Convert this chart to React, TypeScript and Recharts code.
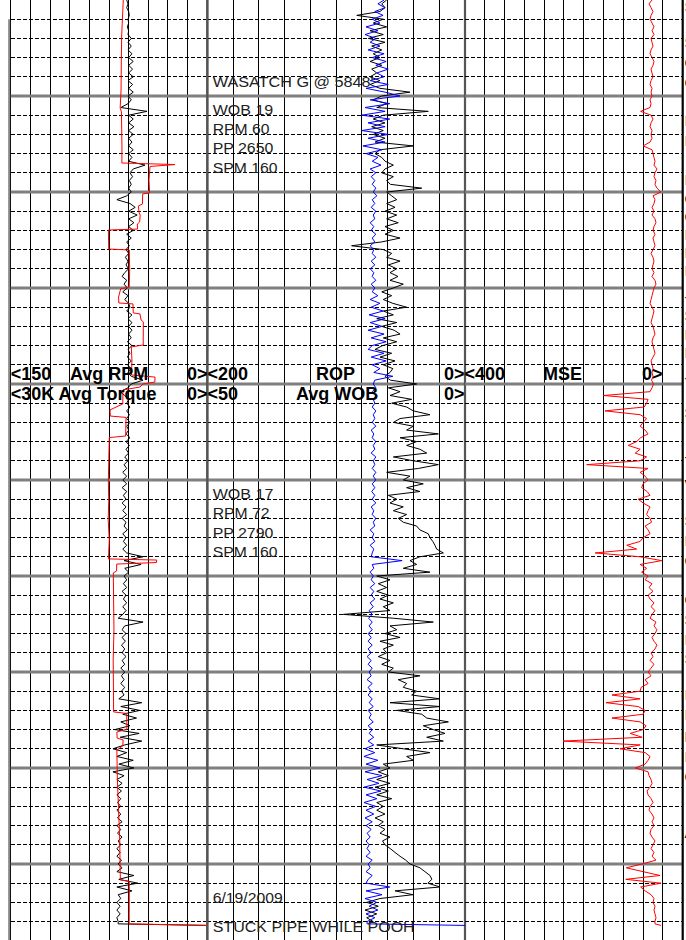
import React from "react";
import { LineChart, Line, XAxis, YAxis, ReferenceLine } from "recharts";

// ---------- depth axis ----------
const DEPTH_TOP = 5800;
const DEPTH_BOTTOM = 6289.6;
// log sampled every 2 ft, plus final "pull out" rows
const sampleDepths = Array.from({ length: 241 }, (_, k) => 5800 + 2 * k);
const tailDepths = [6281.2, 6282.0];
const depthFt = [...sampleDepths, ...tailDepths];

// ---------- series (same depth rows) ----------
const avgTorqueK = [
  12.3, 12.1, 12.3, 12.0, 11.9, 12.1, 12.0, 12.2, 12.0, 12.1,
  11.6, 12.1, 11.6, 12.1, 11.5, 12.0, 11.3, 12.0, 11.4, 12.0,
  11.3, 12.1, 11.4, 12.0, 11.3, 12.1, 11.6, 12.1, 13.2, 9.2,
  12.0, 11.3, 12.0, 11.2, 12.0, 11.3, 12.0, 11.5, 12.0, 11.3,
  12.0, 11.5, 12.0, 9.5, 11.3, 11.8, 11.4, 11.9, 11.6, 12.0,
  11.6, 12.3, 13.8, 11.8, 11.0, 12.0, 10.7, 12.0, 11.2, 12.0,
  11.3, 12.3, 11.6, 12.3, 11.9, 12.4, 12.0, 12.5, 12.1, 12.4,
  12.0, 12.6, 13.0, 12.3, 12.7, 12.2, 12.9, 12.1, 12.6, 12.0,
  11.8, 12.3, 11.5, 12.1, 11.5, 12.0, 11.5, 12.0, 11.6, 12.2,
  11.5, 12.1, 11.8, 12.2, 11.6, 12.2, 11.6, 12.1, 11.6, 9.8,
  11.6, 12.1, 13.3, 12.6, 12.0, 12.3, 11.8, 12.3, 11.9, 12.3,
  11.8, 12.3, 12.0, 12.4, 11.8, 12.4, 11.9, 12.4, 12.0, 12.6,
  12.1, 12.7, 12.3, 12.9, 12.3, 12.9, 12.3, 13.0, 12.3, 12.8,
  12.4, 13.0, 12.4, 12.9, 12.3, 13.0, 12.4, 12.7, 12.2, 12.9,
  12.4, 12.8, 12.3, 12.9, 12.3, 9.8, 12.7, 10.1, 12.6, 12.0,
  12.7, 12.3, 12.8, 12.3, 13.0, 12.4, 12.8, 12.3, 12.9, 12.4,
  12.9, 13.6, 9.8, 12.6, 13.0, 12.4, 13.0, 12.5, 13.1, 12.6,
  13.0, 12.4, 13.0, 12.6, 13.2, 12.6, 13.1, 12.7, 13.2, 12.6,
  13.1, 12.7, 13.5, 10.0, 13.2, 10.3, 12.9, 10.8, 13.2, 11.8,
  14.1, 10.4, 13.3, 10.0, 12.6, 14.4, 12.3, 13.8, 11.3, 13.5,
  11.2, 14.4, 12.7, 13.8, 13.0, 13.8, 13.1, 13.8, 13.2, 13.7,
  13.2, 13.8, 13.2, 13.7, 13.0, 13.8, 13.2, 13.7, 13.0, 13.6,
  13.2, 13.8, 13.3, 13.8, 13.1, 13.6, 13.0, 13.8, 11.2, 13.5,
  10.6, 13.8, 11.5, 13.6, 13.2, 13.8, 13.3, 13.8, 13.3, 13.8,
  13.6,
  13.6, 0,
];

const ropFtHr: (number | null)[] = [
  60.8, 64.6, 62.1, 66.0, 84.0, 63.4, 71.2, 60.8, 73.7, 63.4,
  75.0, 62.1, 72.4, 64.6, 71.2, 66.0, 73.7, 64.6, 72.4, 68.5,
  73.7, 66.0, 73.7, 66.0, 42.7, 64.6, 71.2, 60.8, 68.5, 28.5,
  63.4, 71.2, 62.1, 72.4, 63.4, 71.2, 62.1, 69.8, 40.1, 66.0,
  69.8, 64.6, 62.0, 55.6, 62.1, 64.6, 55.6, 60.8, 58.0, 33.6,
  60.8, 56.9, 53.0, 60.8, 54.3, 62.1, 53.0, 60.8, 51.8, 62.1,
  55.6, 62.0, 50.4, 64.6, 88.0, 63.4, 56.9, 60.8, 50.4, 59.5,
  53.0, 58.2, 52.0, 58.2, 47.9, 55.6, 64.6, 56.9, 63.4, 56.0,
  45.3, 63.4, 55.6, 68.5, 53.0, 64.6, 55.0, 50.4, 63.4, 53.0,
  64.0, 69.8, 56.9, 66.0, 54.3, 63.4, 56.0, 58.2, 62.1, 58.0,
  37.5, 59.5, 50.4, 58.2, 41.4, 56.9, 45.3, 40.1, 27.2, 50.4,
  55.6, 40.1, 45.3, 20.7, 50.4, 37.5, 45.3, 35.0, 29.7, 55.6,
  40.1, 20.7, 36.2, 60.8, 42.7, 47.9, 32.4, 45.3, 35.0, 59.5,
  53.0, 58.2, 47.9, 55.6, 45.3, 51.8, 47.9, 37.5, 35.0, 28.5,
  27.2, 25.0, 23.3, 22.0, 16.8, 35.0, 42.7, 37.5, 47.9, 27.2,
  68.5, 58.2, 67.3, 60.8, 68.5, 59.5, 66.0, 55.6, 63.4, 58.2,
  94.4, 55.6, 24.6, 58.2, 53.0, 62.1, 50.4, 66.0, 55.6, 63.4,
  60.8, 67.3, 58.2, 64.6, 55.6, 59.5, 35.0, 51.8, 45.3, 47.9,
  37.5, 41.4, 19.4, 58.2, 19.4, 53.0, 33.6, 29.7, 12.9, 32.4,
  24.6, 15.5, 29.7, 16.8, 68.5, 47.9, 27.2, 45.3, 40.1, 63.4,
  58.2, 67.3, 59.5, 68.5, 58.2, 69.8, 59.5, 68.5, 56.9, 68.5,
  63.4, 68.5, 62.1, 69.8, 63.4, 67.3, 62.1, 66.0, 58.2, 64.0,
  62.1, 58.0, 54.3, 50.4, 46.0, 42.7, 35.0, 31.1, 27.2, 25.7,
  28.8, 19.4, 54.3, 40.4, 66.0, 76.3, 67.3, 77.6, 68.5, 76.3,
  71.2,
  75.0, null,
];

const avgWobK = [
  15.7, 16.9, 15.5, 17.5, 15.9, 18.0, 16.5, 19.2, 16.9, 19.4,
  17.3, 18.4, 16.5, 18.8, 15.7, 18.0, 15.3, 17.3, 14.9, 17.1,
  15.7, 18.4, 14.9, 19.2, 15.5, 12.6, 18.4, 14.6, 19.4, 15.5,
  20.0, 14.6, 18.8, 15.5, 20.0, 14.9, 18.8, 15.5, 19.8, 16.1,
  19.2, 16.9, 18.0, 16.3, 18.4, 17.3, 18.2, 17.5, 18.0, 17.3,
  17.8, 17.1, 18.0, 17.5, 18.2, 17.3, 17.8, 17.5, 18.4, 17.7,
  18.2, 17.3, 18.0, 17.5, 18.4, 17.7, 18.0, 17.3, 18.2, 17.5,
  18.4, 17.7, 18.0, 17.3, 18.2, 17.5, 18.0, 16.9, 18.4, 16.5,
  18.2, 15.9, 18.6, 15.5, 18.4, 16.1, 18.8, 15.7, 18.2, 15.3,
  18.0, 18.8, 15.7, 18.2, 15.3, 18.0, 16.5, 17.7, 14.0, 17.5,
  17.8, 17.3, 18.0, 17.1, 17.8, 17.5, 18.0, 17.3, 17.8, 17.5,
  18.0, 17.3, 18.2, 17.7, 18.0, 17.3, 17.8, 17.5, 18.2, 17.3,
  17.8, 17.5, 18.0, 17.3, 17.8, 17.3, 18.0, 17.5, 18.1, 17.5,
  18.0, 17.3, 18.2, 17.7, 18.0, 17.3, 17.8, 17.5, 18.4, 17.7,
  18.0, 17.5, 18.4, 17.7, 18.0, 18.2, 12.2, 18.0, 17.7, 18.4,
  17.8, 18.2, 17.5, 18.4, 17.7, 18.2, 17.5, 18.4, 17.8, 18.6,
  18.0, 18.7, 18.0, 18.6, 18.0, 18.8, 18.2, 18.8, 18.0, 18.8,
  18.2, 19.0, 18.2, 18.8, 18.0, 18.6, 18.2, 19.0, 18.0, 18.8,
  18.2, 18.8, 18.0, 18.6, 17.8, 18.8, 18.2, 18.6, 17.8, 18.8,
  18.0, 18.6, 17.7, 18.8, 17.7, 19.4, 17.5, 19.6, 16.9, 19.2,
  16.5, 19.4, 16.1, 19.0, 16.7, 19.6, 16.3, 19.2, 17.1, 19.6,
  17.3, 19.2, 17.7, 19.4, 18.0, 19.2, 18.2, 19.0, 18.4, 19.2,
  18.6, 19.0, 18.4, 19.2, 18.0, 18.8, 18.4, 19.2, 18.0, 18.8,
  19.2, 14.6, 19.2, 16.1, 19.4, 17.1, 18.6, 16.9, 19.2, 17.5,
  19.0,
  19.0, 0,
];

const mseKpsi = [
  22, 28, 24, 20, 24, 26, 22, 18, 22, 18,
  24, 22, 20, 24, 26, 22, 18, 20, 24, 22,
  20, 24, 26, 22, 24, 22, 26, 24, 26, 45,
  24, 20, 24, 26, 22, 24, 22, 26, 40, 22,
  20, 18, 16, 18, 12, 16, 18, 14, 16, 12,
  4, 20, 16, 18, 22, 18, 22, 16, 14, 18,
  20, 16, 20, 18, 16, 20, 24, 20, 18, 20,
  22, 18, 22, 16, 14, 18, 20, 22, 24, 26,
  22, 18, 20, 22, 24, 20, 18, 16, 20, 22,
  20, 18, 16, 20, 24, 22, 20, 22, 20, 23,
  19, 22, 26, 120, 30, 33, 38, 117, 46, 33,
  40, 46, 36, 30, 45, 53, 70, 46, 56, 33,
  46, 154, 30, 46, 36, 30, 40, 43, 32, 26,
  50, 40, 26, 30, 33, 26, 23, 36, 30, 26,
  40, 46, 73, 53, 137, 46, 2.4, 46, 33, 43,
  30, 36, 22, 28, 20, 30, 26, 18, 24, 16,
  22, 26, 14, 18, 12, 16, 22, 18, 12, 16,
  24, 20, 26, 18, 24, 30, 24, 36, 30, 44,
  46, 103, 46, 115, 50, 36, 40, 103, 46, 34,
  40, 66, 42, 202, 46, 87, 36, 26, 30, 36,
  56, 30, 28, 24, 22, 26, 32, 30, 24, 20,
  26, 28, 22, 18, 22, 18, 24, 26, 22, 16,
  20, 24, 18, 22, 14, 42, 74, 40, 6, 75,
  4, 45, 36, 24, 18, 20, 16, 18, 16, 14,
  16,
  16, 4,
];

// ---------- Avg RPM (own depth rows) ----------
const rpmDepthFt = [
  5800, 5810.4, 5818.2, 5831.3, 5846.9, 5856.3, 5858.3, 5867.7, 5878.1, 5884.9,
  5885.7, 5886.7, 5893.8, 5900.5, 5901.0, 5906.3, 5907.3, 5910.9, 5912.0, 5915.6,
  5916.7, 5919.3, 5919.8, 5929.7, 5930.2, 5940.6, 5949.5, 5950.5, 5954.7, 5957.8,
  5958.3, 5963.0, 5963.5, 5966.7, 5967.7, 5979.7, 5980.7, 5987.5, 5995.3, 5996.4,
  5999.0, 6000.0, 6001.6, 6003.1, 6010.4, 6013.5, 6016.7, 6017.4, 6027.1, 6027.9,
  6034.4, 6050.0, 6060.4, 6070.8, 6081.3, 6089.1, 6091.1, 6091.7, 6093.0, 6093.8,
  6097.4, 6098.4, 6112.5, 6128.1, 6143.8, 6159.4, 6170.8, 6171.6, 6179.7, 6181.3,
  6184.4, 6185.4, 6188.5, 6190.6, 6206.3, 6221.9, 6237.5, 6253.1, 6258.3, 6259.1,
  6281.2, 6282.0,
];
const avgRpm = [
  64.1, 64.8, 65.3, 65.6, 65.8, 66.5, 65.5, 65.3, 65.1, 65.2,
  24.6, 43.7, 44.5, 44.0, 49.3, 49.5, 52.6, 52.0, 51.2, 51.6,
  53.4, 53.2, 75.5, 75.2, 59.5, 59.2, 59.6, 66.1, 67.7, 67.5,
  56.7, 56.5, 51.4, 50.5, 48.8, 48.9, 58.0, 57.5, 57.8, 39.9,
  40.0, 49.1, 51.4, 64.3, 64.5, 74.2, 74.0, 62.0, 62.3, 74.8,
  75.0, 75.5, 75.2, 75.6, 74.8, 75.3, 75.5, 38.6, 38.8, 69.1,
  69.2, 71.7, 71.5, 71.2, 71.8, 71.6, 71.5, 61.5, 61.3, 69.0,
  68.8, 64.2, 64.5, 69.0, 68.6, 67.7, 66.8, 66.5, 66.3, 59.5,
  59.6, 0,
];

// ---------- scale ticks ----------
const rpmTicks = [150, 135, 120, 105, 90, 75, 60, 45, 30, 15, 0];
const ropTicks = [200, 180, 160, 140, 120, 100, 80, 60, 40, 20, 0];
const mseTicks = [400, 360, 320, 280, 240, 200, 160, 120, 80, 40, 0, -40];
const minorDepths = Array.from({ length: 48 }, (_, i) => 5810 + 10 * i).filter((d) => d % 50 !== 0);
const majorDepths = [5850, 5900, 5950, 6000, 6050, 6100, 6150, 6200, 6250];

// ---------- text ----------
const formationNote = "WASATCH G @ 5848'";
const notesUpper = ["WOB 19", "RPM 60", "PP 2650", "SPM 160"];
const notesLower = ["WOB 17", "RPM 72", "PP 2790", "SPM 160"];
const dateNote = "6/19/2009";
const eventNote = "STUCK PIPE WHILE POOH";
const edgeLetters = [
  "S", "S", "C", "C", "I", "I", "I", "C", "C", "I", "I", "I", "-", "S", "I", "I",
  "-", "S", "-", "V", "S", "I", "C", "C", "S", "I", "S", "I", "I", "E", "I", "C", "A",
];
const edgeLetterY = [
  12, 48, 68, 88, 126, 146, 185, 204, 222, 240, 258, 276, 302, 321, 340, 358,
  383, 418, 462, 490, 526, 546, 566, 605, 625, 645, 664, 700, 720, 742, 762, 782, 838,
];

const rows = depthFt.map((d, i) => ({
  depth: d,
  torque: avgTorqueK[i],
  rop: ropFtHr[i],
  wob: avgWobK[i],
  mse: mseKpsi[i],
}));
const rpmRows = rpmDepthFt.map((d, i) => ({ depth: d, rpm: avgRpm[i] }));

const FONT = "'Liberation Sans', Arial, sans-serif";
const H = 940;

function hGrid(axisId: string) {
  return [
    ...minorDepths.map((d) => (
      <ReferenceLine
        key={"m" + d}
        xAxisId={axisId}
        y={d}
        stroke="#000"
        strokeWidth={1}
        strokeDasharray="4 2"
        shapeRendering="crispEdges"
      />
    )),
    ...majorDepths.map((d) => (
      <ReferenceLine key={"M" + d} xAxisId={axisId} y={d} stroke="#7f7f7f" strokeWidth={3} />
    )),
  ];
}

function vGrid(axisId: string, ticks: number[]) {
  return ticks.map((t) => (
    <ReferenceLine
      key={"v" + t}
      xAxisId={axisId}
      x={t}
      stroke="#000"
      strokeWidth={1}
      shapeRendering="crispEdges"
    />
  ));
}

const yAxis = (
  <YAxis type="number" dataKey="depth" domain={[DEPTH_TOP, DEPTH_BOTTOM]} hide allowDataOverflow />
);

function LeftTrack() {
  return (
    <LineChart
      layout="vertical"
      width={210}
      height={H}
      data={rows}
      margin={{ top: 0, right: 2.7, bottom: 0, left: 10.7 }}
    >
      <XAxis xAxisId="rpm" type="number" domain={[0, 150]} reversed hide allowDataOverflow />
      <XAxis xAxisId="tq" type="number" domain={[0, 30]} reversed hide allowDataOverflow />
      {yAxis}
      {vGrid("rpm", rpmTicks.slice(0, 10))}
      <ReferenceLine
        xAxisId="rpm"
        ifOverflow="visible"
        segment={[{ x: 151.2, y: 5810 }, { x: 151.2, y: DEPTH_BOTTOM }]}
        stroke="#8a8a8a"
        strokeWidth={2}
      />
      {hGrid("rpm")}
      <ReferenceLine xAxisId="rpm" x={0} stroke="#555" strokeWidth={2.2} />
      <Line
        xAxisId="tq"
        dataKey="torque"
        stroke="#000"
        strokeWidth={1}
        dot={false}
        isAnimationActive={false}
      />
      <Line
        xAxisId="rpm"
        data={rpmRows}
        dataKey="rpm"
        stroke="#ff0000"
        strokeWidth={1}
        dot={false}
        isAnimationActive={false}
      />
    </LineChart>
  );
}

function MiddleTrack() {
  return (
    <LineChart
      layout="vertical"
      width={264}
      height={H}
      data={rows}
      margin={{ top: 0, right: 3, bottom: 0, left: 3.3 }}
    >
      <XAxis xAxisId="rop" type="number" domain={[0, 200]} reversed hide allowDataOverflow />
      <XAxis xAxisId="wob" type="number" domain={[0, 50]} reversed hide allowDataOverflow />
      {yAxis}
      {vGrid("rop", ropTicks.slice(1, 10))}
      {hGrid("rop")}
      <ReferenceLine xAxisId="rop" x={200} stroke="#555" strokeWidth={2.2} />
      <ReferenceLine xAxisId="rop" x={0} stroke="#555" strokeWidth={2.2} />
      <Line
        xAxisId="rop"
        dataKey="rop"
        stroke="#000"
        strokeWidth={1}
        dot={false}
        isAnimationActive={false}
      />
      <Line
        xAxisId="wob"
        dataKey="wob"
        stroke="#0000ff"
        strokeWidth={1}
        dot={false}
        isAnimationActive={false}
      />
    </LineChart>
  );
}

function RightTrack() {
  return (
    <LineChart
      layout="vertical"
      width={224}
      height={H}
      data={rows}
      margin={{ top: 0, right: 3.3, bottom: 0, left: 3 }}
    >
      <XAxis xAxisId="mse" type="number" domain={[-40, 400]} reversed hide allowDataOverflow />
      {yAxis}
      {vGrid("mse", mseTicks.slice(1, 11))}
      {hGrid("mse")}
      <ReferenceLine xAxisId="mse" x={-40} stroke="#000" strokeWidth={2.2} />
      <Line
        xAxisId="mse"
        dataKey="mse"
        stroke="#ff0000"
        strokeWidth={1}
        dot={false}
        isAnimationActive={false}
      />
    </LineChart>
  );
}

const boldStyle = { fontFamily: FONT, fontSize: 18, fontWeight: 700, fill: "#000" } as const;
const noteStyle = { fontFamily: FONT, fontSize: 14, fill: "#222" } as const;

function Labels() {
  const upperLens = [60.6, 56.7, 60.7, 64.7];
  const lowerLens = [60.7, 56.7, 60.7, 64.7];
  const upperY = [115, 134, 153.3, 172.7];
  const lowerY = [499.3, 518.3, 537.7, 556.7];
  return (
    <svg
      width={686}
      height={H}
      style={{ position: "absolute", left: 0, top: 0, pointerEvents: "none" }}
    >
      {/* track headers */}
      <text x={10.7} y={379.5} {...boldStyle}>{"<150"}</text>
      <text x={70} y={379.5} {...boldStyle}>Avg RPM</text>
      <text x={187} y={379.5} {...boldStyle}>{"0><200"}</text>
      <text x={316} y={379.5} {...boldStyle}>ROP</text>
      <text x={444} y={379.5} {...boldStyle}>{"0><400"}</text>
      <text x={543} y={379.5} {...boldStyle}>MSE</text>
      <text x={642} y={379.5} {...boldStyle}>{"0>"}</text>
      <text x={10.7} y={399.5} {...boldStyle}>{"<30K Avg Torque"}</text>
      <text x={187} y={399.5} {...boldStyle}>{"0><50"}</text>
      <text x={296} y={399.5} {...boldStyle}>Avg WOB</text>
      <text x={444} y={399.5} {...boldStyle}>{"0>"}</text>

      {/* notes */}
      <text x={212.7} y={86.7} textLength={161} lengthAdjust="spacingAndGlyphs" {...noteStyle}>
        {formationNote}
      </text>
      {notesUpper.map((t, i) => (
        <text key={"u" + i} x={212.7} y={upperY[i]} textLength={upperLens[i]} lengthAdjust="spacingAndGlyphs" {...noteStyle}>
          {t}
        </text>
      ))}
      {notesLower.map((t, i) => (
        <text key={"l" + i} x={212.7} y={lowerY[i]} textLength={lowerLens[i]} lengthAdjust="spacingAndGlyphs" {...noteStyle}>
          {t}
        </text>
      ))}
      <text x={212.7} y={903.3} textLength={70} lengthAdjust="spacingAndGlyphs" {...noteStyle}>
        {dateNote}
      </text>
      <text x={212.7} y={931.7} textLength={202} lengthAdjust="spacingAndGlyphs" {...noteStyle}>
        {eventNote}
      </text>

      {/* clipped lithology column at right edge */}
      {edgeLetters.map((c, i) => (
        <text key={"e" + i} x={684.5} y={edgeLetterY[i]} fontFamily={FONT} fontSize={15} fill="#111">
          {c}
        </text>
      ))}
    </svg>
  );
}

export default function App() {
  return (
    <div
      style={{
        position: "absolute",
        left: 0,
        top: 0,
        width: 686,
        height: H,
        background: "#fff",
        overflow: "hidden",
      }}
    >
      <div style={{ position: "absolute", left: 0, top: 0 }}>
        <LeftTrack />
      </div>
      <div style={{ position: "absolute", left: 204, top: 0 }}>
        <MiddleTrack />
      </div>
      <div style={{ position: "absolute", left: 462, top: 0 }}>
        <RightTrack />
      </div>
      <Labels />
    </div>
  );
}
